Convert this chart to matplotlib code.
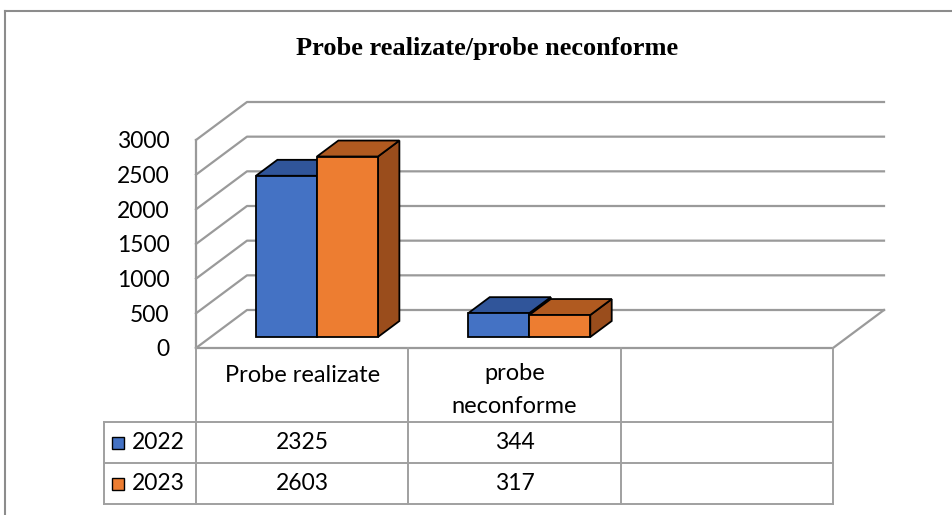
import matplotlib
matplotlib.use("Agg")
import matplotlib.pyplot as plt
from matplotlib.patches import Polygon, Rectangle
from matplotlib.lines import Line2D
import matplotlib.transforms as mtransforms

# ---------------- data ----------------
categories = ["Probe realizate", "probe\nneconforme", ""]
series_names = ["2022", "2023"]
values_2022 = [2325, 344]
values_2023 = [2603, 317]
ytick_values = [0, 500, 1000, 1500, 2000, 2500, 3000]
title = "Probe realizate/probe neconforme"

# ---------------- style ----------------
W, H = 953, 515
front_cols = ["#4472C4", "#ED7D31"]
top_cols = ["#30559A", "#B05A20"]
side_cols = ["#2C4F8F", "#9A4D1C"]
grid_col = "#9a9a9a"
border_col = "#8c8c8c"
FONT = "Lato"
NUM_FS = 16.5
CAT_FS = 17

fig = plt.figure(figsize=(W / 100, H / 100), dpi=100)
fig.patch.set_facecolor("white")

def fx(px):
    return px / W

def fy(py):
    return 1 - py / H

ax = fig.add_axes([fx(196), fy(348), fx(833) - fx(196), (348 - 140) / H])
ncat = len(categories)
ax.set_xlim(-0.5, ncat - 0.5)
ax.set_ylim(0, 3000)
for s in ax.spines.values():
    s.set_visible(False)
ax.set_xticks([])
ax.set_yticks(ytick_values)
ax.set_yticklabels([str(v) for v in ytick_values], fontsize=NUM_FS, family=FONT)
ax.tick_params(axis="y", length=0, pad=19)
ax.patch.set_alpha(0)

# depth vector in data units
DX = 51 / ((833 - 196) / ncat)
DY = 38 / (208 / 3000)
x0, x1 = -0.5, ncat - 0.5

# gridlines (floor + back wall)
for v in ytick_values:
    ax.add_line(Line2D([x0, x0 + DX, x1 + DX], [v, v + DY, v + DY],
                       color=grid_col, lw=1.6, clip_on=False, zorder=1))
ax.add_line(Line2D([x0, x1, x1 + DX], [0, 0, DY], color=grid_col, lw=1.6,
                   clip_on=False, zorder=1))
ax.add_line(Line2D([x0, x0], [0, ytick_values[-1]], color=grid_col, lw=1.6,
                   clip_on=False, zorder=1))

# 3D bars
BW = 61 / ((833 - 196) / ncat)
d0, d1 = 0.29, 0.71
series = [values_2022, values_2023]

def draw_bar(xl, val, k):
    xr = xl + BW
    sx0, sy0 = d0 * DX, d0 * DY
    sx1, sy1 = d1 * DX, d1 * DY
    kw = dict(edgecolor="black", lw=1.3, joinstyle="miter", clip_on=False, zorder=3)
    front = Polygon([(xl + sx0, sy0), (xr + sx0, sy0), (xr + sx0, val + sy0), (xl + sx0, val + sy0)],
                    closed=True, facecolor=front_cols[k], **kw)
    top = Polygon([(xl + sx0, val + sy0), (xr + sx0, val + sy0), (xr + sx1, val + sy1), (xl + sx1, val + sy1)],
                  closed=True, facecolor=top_cols[k], **kw)
    side = Polygon([(xr + sx0, sy0), (xr + sx1, sy1), (xr + sx1, val + sy1), (xr + sx0, val + sy0)],
                   closed=True, facecolor=side_cols[k], **kw)
    for p in (side, top, front):
        ax.add_patch(p)

for c in range(len(values_2022)):
    for k, vals in enumerate(series):
        draw_bar(c - BW + k * BW, vals[c], k)

# ---------------- data table ----------------
bt = mtransforms.blended_transform_factory(ax.transData, fig.transFigure)
tcol = "#a0a0a0"
y_top, y_r1, y_r2, y_bot = 348, 422, 463, 504
for i in range(ncat + 1):
    xi = i - 0.5
    fig.add_artist(Line2D([xi, xi], [fy(y_top), fy(y_bot)], transform=bt,
                          color=tcol, lw=1.4))
for yy in (y_r1, y_r2, y_bot):
    fig.add_artist(Line2D([fx(104), fx(833)], [fy(yy), fy(yy)],
                          transform=fig.transFigure, color=tcol, lw=1.4))
fig.add_artist(Line2D([fx(104), fx(104)], [fy(y_r1), fy(y_bot)],
                      transform=fig.transFigure, color=tcol, lw=1.4))

for c, name in enumerate(categories):
    if name:
        yc = 375 if "\n" not in name else 390
        fig.text(c, fy(yc), name, transform=bt, ha="center", va="center",
                 fontsize=CAT_FS, family=FONT, linespacing=1.7)

row_y = [(y_r1 + y_r2) / 2, (y_r2 + y_bot) / 2]
for k, vals in enumerate(series):
    for c, v in enumerate(vals):
        fig.text(c, fy(row_y[k]), str(v), transform=bt, ha="center", va="center",
                 fontsize=NUM_FS, family=FONT)
    fig.add_artist(Rectangle((fx(112), fy(row_y[k] + 6)), fx(12), 12 / H,
                             transform=fig.transFigure, facecolor=front_cols[k],
                             edgecolor="black", lw=1.0))
    fig.text(fx(132), fy(row_y[k]), series_names[k], ha="left", va="center",
             fontsize=NUM_FS, family=FONT)

# ---------------- title & border ----------------
fig.text(fx(487), fy(48), title, ha="center", va="center", fontsize=19,
         family="Liberation Serif", fontweight="bold")
fig.add_artist(Line2D([fx(5), fx(953)], [fy(11), fy(11)], transform=fig.transFigure,
                      color=border_col, lw=1.5))
fig.add_artist(Line2D([fx(5), fx(5)], [fy(11), fy(515)], transform=fig.transFigure,
                      color=border_col, lw=1.5))

fig.savefig("out.png", dpi=100)
